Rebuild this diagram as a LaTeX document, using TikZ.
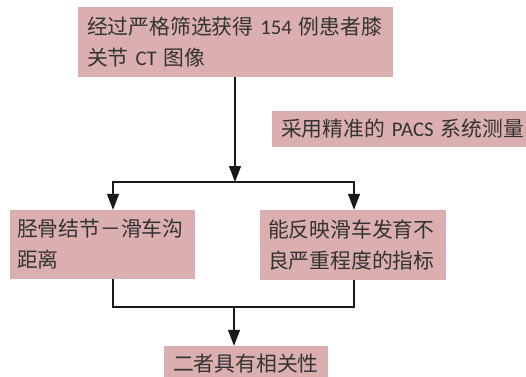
\documentclass[tikz,border=0pt]{standalone}
\usepackage{fontspec}
\setmainfont{Carlito}
\newfontfamily\cjk{Noto Sans CJK SC}
\usetikzlibrary{arrows.meta}
\definecolor{boxfill}{HTML}{DBAEAF}
\definecolor{txt}{HTML}{333333}
\newcommand{\lat}[1]{{\rmfamily #1}}
\tikzset{
  box/.style={fill=boxfill, draw=none, align=left, inner xsep=9pt, inner ysep=0pt,
    text=txt, font=\cjk\fontsize{20.8}{31}\selectfont, anchor=center},
  conn/.style={draw=black!90, line width=1.2pt},
  arr/.style={conn, -{Triangle[width=12pt,length=16pt]}}
}
\begin{document}
\begin{tikzpicture}[x=1pt,y=-1pt]
\useasboundingbox (0,0) rectangle (526,376);
\node[box, text width=297pt, minimum height=70pt] (top) at (235.5,42) {经过严格筛选获得 \lat{154} 例患者膝\\关节 \lat{CT} 图像};
\node[box, text width=250pt, minimum height=36pt] (pacs) at (406,129) {采用精准的 \lat{PACS} 系统测量};
\node[box, text width=171pt, minimum height=69pt, inner xsep=7pt] (left) at (102.5,244.5) {胫骨结节－滑车沟\\距离};
\node[box, text width=170pt, minimum height=70pt, inner xsep=8pt] (right) at (353,245) {能反映滑车发育不\\良严重程度的指标};
\node[box, text width=146pt, minimum height=36pt] (bot) at (246,364) {二者具有相关性};
\coordinate (j1) at (235,182);
\coordinate (j2) at (234,307);
\draw[arr] (top.south -| j1) -- (j1);
\draw[arr] (j1) -| ([xshift=10.5pt]left.north);
\draw[arr] (j1) -| ([xshift=1pt]right.north);
\draw[conn] ([xshift=10.5pt]left.south) |- (j2) -| ([xshift=1pt]right.south);
\draw[arr] (j2) -- (bot.north -| j2);
\end{tikzpicture}
\end{document}
